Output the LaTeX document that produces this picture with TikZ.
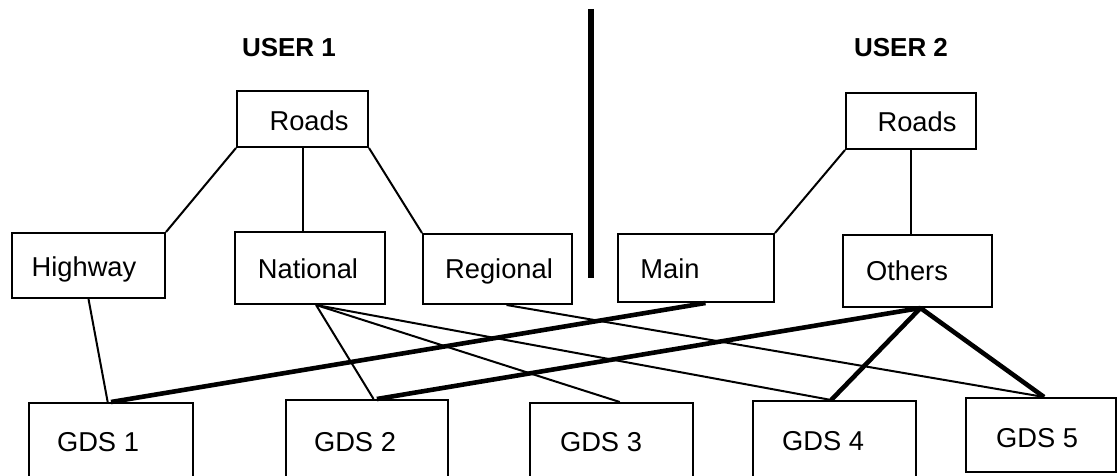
\documentclass[tikz,border=0pt]{standalone}
\usepackage{fontspec}
\setmainfont{Liberation Sans}
\usetikzlibrary{calc}
\begin{document}
\begin{tikzpicture}[x=0.5pt,y=-0.5pt,
  box/.style={draw, line width=1pt, rectangle, inner sep=0pt},
  lbl/.style={anchor=base, inner sep=0pt, font=\fontsize{13.65}{16}\selectfont},
  head/.style={anchor=base, inner sep=0pt, font=\fontsize{13}{16}\selectfont\bfseries},
  link/.style={line width=1pt},
  heavylink/.style={line width=2.3pt},
  divider/.style={line width=2.8pt},
]
\clip (0,0) rectangle (1118,476);
\fill[white] (0,0) rectangle (1118,476);

% user headings
\node[head] (userA) at (289,57) {USER 1};
\node[head] (userB) at (901,57) {USER 2};

% divider between the two users
\coordinate (divTop) at (591,9);
\coordinate (divBot) at (591,278);
\draw[divider] (divTop) -- (divBot);

% category boxes
\node[box, minimum width=65.5pt, minimum height=28pt] (roadsA) at (302.5,119) {};
\node[box, minimum width=65pt,   minimum height=28pt] (roadsB) at (911,121) {};
\node[box, minimum width=76.5pt, minimum height=32.5pt] (highway) at (88.5,265.5) {};
\node[box, minimum width=75pt,   minimum height=36pt] (national) at (310,268) {};
\node[box, minimum width=74.5pt, minimum height=35pt] (regional) at (497.5,269) {};
\node[box, minimum width=78pt,   minimum height=34pt] (main) at (696,268) {};
\node[box, minimum width=74.5pt, minimum height=36pt] (others) at (917.5,271) {};

% data set boxes
\node[box, minimum width=82pt,   minimum height=43.5pt] (gdsA) at (111,446.5) {};
\node[box, minimum width=81pt,   minimum height=45pt]   (gdsB) at (367,445) {};
\node[box, minimum width=81.5pt, minimum height=43.5pt] (gdsC) at (611.5,446.5) {};
\node[box, minimum width=81.5pt, minimum height=44.5pt] (gdsD) at (834.5,445.5) {};
\node[box, minimum width=75pt,   minimum height=37pt]   (gdsE) at (1041,435) {};

% box texts
\node[lbl] (roadsAtxt) at (309,130) {Roads};
\node[lbl] (roadsBtxt) at (917,132) {Roads};
\node[lbl] (highwaytxt) at (84,276) {Highway};
\node[lbl] (nationaltxt) at (308,278) {National};
\node[lbl] (regionaltxt) at (499,278) {Regional};
\node[lbl] (maintxt) at (670,278) {Main};
\node[lbl] (otherstxt) at (907,280) {Others};
\node[lbl] (gdsAtxt) at (98,451) {GDS 1};
\node[lbl] (gdsBtxt) at (355,451) {GDS 2};
\node[lbl] (gdsCtxt) at (601,451) {GDS 3};
\node[lbl] (gdsDtxt) at (823,450) {GDS 4};
\node[lbl] (gdsEtxt) at (1037,447) {GDS 5};

% hierarchy links
\draw[link] (roadsA.south west) -- (highway.north east);
\draw[link] (roadsA.south) -- (roadsA.south |- national.north);
\draw[link] (roadsA.south east) -- (regional.north west);
\draw[link] (roadsB.south west) -- (main.north east);
\draw[link] (roadsB.south) -- (roadsB.south |- others.north);

% links from user 1 categories to data sets
\coordinate (natOut) at ($(national.south west)!0.54!(national.south east)$);
\draw[link] (highway.south) -- ($(gdsA.north west)!0.48!(gdsA.north east)$);
\draw[link] (natOut) -- ($(gdsB.north west)!0.54!(gdsB.north east)$);
\draw[link] (natOut) -- ($(gdsC.north west)!0.55!(gdsC.north east)$);
\draw[link] (natOut) -- ($(gdsD.north west)!0.48!(gdsD.north east)$);
\draw[link] ($(regional.south west)!0.56!(regional.south east)$) -- ($(gdsE.north west)!0.52!(gdsE.north east)$);

% links from user 2 categories to data sets
\coordinate (othOut) at ($(others.south west)!0.52!(others.south east)$);
\draw[heavylink] ($(main.south west)!0.56!(main.south east)$) -- (gdsA.north);
\draw[heavylink] (othOut) -- ($(gdsB.north west)!0.56!(gdsB.north east)$);
\draw[heavylink] (othOut) -- ($(gdsD.north west)!0.48!(gdsD.north east)$);
\draw[heavylink] (othOut) -- ($(gdsE.north west)!0.52!(gdsE.north east)$);
\end{tikzpicture}
\end{document}
